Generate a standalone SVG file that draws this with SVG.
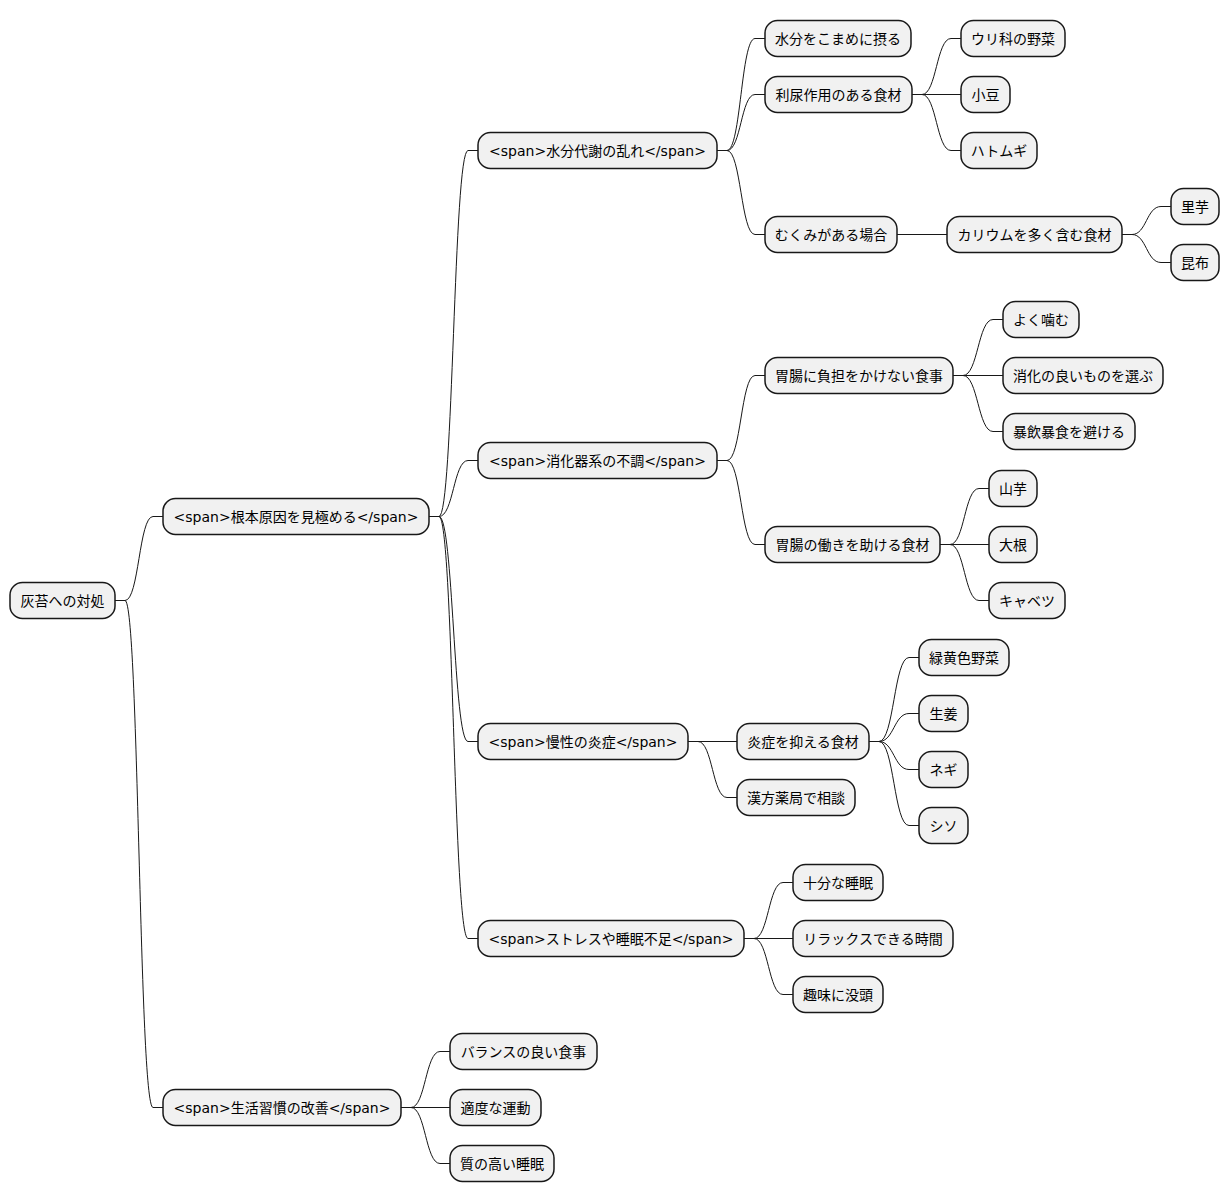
<svg xmlns="http://www.w3.org/2000/svg" width="1230" height="1203" viewBox="0 0 1230 1203">
<style>
.n rect{fill:#F1F1F1;stroke:#181818;stroke-width:1.5}
.n text{font-family:"DejaVu Sans","Noto Sans CJK JP",sans-serif;font-size:14px;fill:#000;text-anchor:middle}
.c path{fill:none;stroke:#181818;stroke-width:1}
</style>
<rect width="1230" height="1203" fill="#FFFFFF"/>
<g class="c" id="connectors">
<path d="M115 600.5 L125 600.5 C139 600.5 139 516.5 153 516.5 L163 516.5"/>
<path d="M115 600.5 L125 600.5 C139 600.5 139 1107.5 153 1107.5 L163 1107.5"/>
<path d="M429 516.5 L439 516.5 C453.5 516.5 453.5 150.5 468 150.5 L478 150.5"/>
<path d="M429 516.5 L439 516.5 C453.5 516.5 453.5 460.5 468 460.5 L478 460.5"/>
<path d="M429 516.5 L439 516.5 C453.5 516.5 453.5 741.5 468 741.5 L478 741.5"/>
<path d="M429 516.5 L439 516.5 C453.5 516.5 453.5 938.5 468 938.5 L478 938.5"/>
<path d="M401 1107.5 L411 1107.5 C425.5 1107.5 425.5 1051.5 440 1051.5 L450 1051.5"/>
<path d="M401 1107.5 L450 1107.5"/>
<path d="M401 1107.5 L411 1107.5 C425.5 1107.5 425.5 1163.5 440 1163.5 L450 1163.5"/>
<path d="M717 150.5 L727 150.5 C741 150.5 741 38.5 755 38.5 L765 38.5"/>
<path d="M717 150.5 L727 150.5 C741 150.5 741 94.5 755 94.5 L765 94.5"/>
<path d="M717 150.5 L727 150.5 C741 150.5 741 234.5 755 234.5 L765 234.5"/>
<path d="M912 94.5 L922 94.5 C936.5 94.5 936.5 38.5 951 38.5 L961 38.5"/>
<path d="M912 94.5 L961 94.5"/>
<path d="M912 94.5 L922 94.5 C936.5 94.5 936.5 150.5 951 150.5 L961 150.5"/>
<path d="M897 234.5 L947 234.5"/>
<path d="M1122 234.5 L1132 234.5 C1146.5 234.5 1146.5 206.5 1161 206.5 L1171 206.5"/>
<path d="M1122 234.5 L1132 234.5 C1146.5 234.5 1146.5 262.5 1161 262.5 L1171 262.5"/>
<path d="M717 460.5 L727 460.5 C741 460.5 741 375.5 755 375.5 L765 375.5"/>
<path d="M717 460.5 L727 460.5 C741 460.5 741 544.5 755 544.5 L765 544.5"/>
<path d="M953 375.5 L963 375.5 C978 375.5 978 319.5 993 319.5 L1003 319.5"/>
<path d="M953 375.5 L1003 375.5"/>
<path d="M953 375.5 L963 375.5 C978 375.5 978 431.5 993 431.5 L1003 431.5"/>
<path d="M940 544.5 L950 544.5 C964.5 544.5 964.5 488.5 979 488.5 L989 488.5"/>
<path d="M940 544.5 L989 544.5"/>
<path d="M940 544.5 L950 544.5 C964.5 544.5 964.5 600.5 979 600.5 L989 600.5"/>
<path d="M688 741.5 L737 741.5"/>
<path d="M688 741.5 L698 741.5 C712.5 741.5 712.5 797.5 727 797.5 L737 797.5"/>
<path d="M869 741.5 L879 741.5 C894 741.5 894 657.5 909 657.5 L919 657.5"/>
<path d="M869 741.5 L879 741.5 C894 741.5 894 713.5 909 713.5 L919 713.5"/>
<path d="M869 741.5 L879 741.5 C894 741.5 894 769.5 909 769.5 L919 769.5"/>
<path d="M869 741.5 L879 741.5 C894 741.5 894 825.5 909 825.5 L919 825.5"/>
<path d="M744 938.5 L754 938.5 C768.5 938.5 768.5 882.5 783 882.5 L793 882.5"/>
<path d="M744 938.5 L793 938.5"/>
<path d="M744 938.5 L754 938.5 C768.5 938.5 768.5 994.5 783 994.5 L793 994.5"/>
</g>
<g class="n" id="root"><rect x="10" y="582.5" width="105" height="36" rx="12.5"/><text x="62.5" y="605.5">灰苔への対処</text></g>
<g class="n" id="n1"><rect x="163" y="498.5" width="266" height="36" rx="12.5"/><text x="296" y="521.5">&lt;span&gt;根本原因を見極める&lt;/span&gt;</text></g>
<g class="n" id="n2"><rect x="163" y="1089.5" width="238" height="36" rx="12.5"/><text x="282" y="1112.5">&lt;span&gt;生活習慣の改善&lt;/span&gt;</text></g>
<g class="n" id="a"><rect x="478" y="132.5" width="239" height="36" rx="12.5"/><text x="597.5" y="155.5">&lt;span&gt;水分代謝の乱れ&lt;/span&gt;</text></g>
<g class="n" id="b"><rect x="478" y="442.5" width="239" height="36" rx="12.5"/><text x="597.5" y="465.5">&lt;span&gt;消化器系の不調&lt;/span&gt;</text></g>
<g class="n" id="c"><rect x="478" y="723.5" width="210" height="36" rx="12.5"/><text x="583" y="746.5">&lt;span&gt;慢性の炎症&lt;/span&gt;</text></g>
<g class="n" id="d"><rect x="478" y="920.5" width="266" height="36" rx="12.5"/><text x="611" y="943.5">&lt;span&gt;ストレスや睡眠不足&lt;/span&gt;</text></g>
<g class="n" id="e1"><rect x="450" y="1033.5" width="147" height="36" rx="12.5"/><text x="523.5" y="1056.5">バランスの良い食事</text></g>
<g class="n" id="e2"><rect x="450" y="1089.5" width="91" height="36" rx="12.5"/><text x="495.5" y="1112.5">適度な運動</text></g>
<g class="n" id="e3"><rect x="450" y="1145.5" width="104" height="36" rx="12.5"/><text x="502" y="1168.5">質の高い睡眠</text></g>
<g class="n" id="a1"><rect x="765" y="20.5" width="146" height="36" rx="12.5"/><text x="838" y="43.5">水分をこまめに摂る</text></g>
<g class="n" id="a2"><rect x="765" y="76.5" width="147" height="36" rx="12.5"/><text x="838.5" y="99.5">利尿作用のある食材</text></g>
<g class="n" id="a3"><rect x="765" y="216.5" width="132" height="36" rx="12.5"/><text x="831" y="239.5">むくみがある場合</text></g>
<g class="n" id="a21"><rect x="961" y="20.5" width="104" height="36" rx="12.5"/><text x="1013" y="43.5">ウリ科の野菜</text></g>
<g class="n" id="a22"><rect x="961" y="76.5" width="49" height="36" rx="12.5"/><text x="985.5" y="99.5">小豆</text></g>
<g class="n" id="a23"><rect x="961" y="132.5" width="76" height="36" rx="12.5"/><text x="999" y="155.5">ハトムギ</text></g>
<g class="n" id="a31"><rect x="947" y="216.5" width="175" height="36" rx="12.5"/><text x="1034.5" y="239.5">カリウムを多く含む食材</text></g>
<g class="n" id="a311"><rect x="1171" y="188.5" width="48" height="36" rx="12.5"/><text x="1195" y="211.5">里芋</text></g>
<g class="n" id="a312"><rect x="1171" y="244.5" width="48" height="36" rx="12.5"/><text x="1195" y="267.5">昆布</text></g>
<g class="n" id="b1"><rect x="765" y="357.5" width="188" height="36" rx="12.5"/><text x="859" y="380.5">胃腸に負担をかけない食事</text></g>
<g class="n" id="b2"><rect x="765" y="526.5" width="175" height="36" rx="12.5"/><text x="852.5" y="549.5">胃腸の働きを助ける食材</text></g>
<g class="n" id="b11"><rect x="1003" y="301.5" width="76" height="36" rx="12.5"/><text x="1041" y="324.5">よく噛む</text></g>
<g class="n" id="b12"><rect x="1003" y="357.5" width="160" height="36" rx="12.5"/><text x="1083" y="380.5">消化の良いものを選ぶ</text></g>
<g class="n" id="b13"><rect x="1003" y="413.5" width="132" height="36" rx="12.5"/><text x="1069" y="436.5">暴飲暴食を避ける</text></g>
<g class="n" id="b21"><rect x="989" y="470.5" width="48" height="36" rx="12.5"/><text x="1013" y="493.5">山芋</text></g>
<g class="n" id="b22"><rect x="989" y="526.5" width="48" height="36" rx="12.5"/><text x="1013" y="549.5">大根</text></g>
<g class="n" id="b23"><rect x="989" y="582.5" width="76" height="36" rx="12.5"/><text x="1027" y="605.5">キャベツ</text></g>
<g class="n" id="c1"><rect x="737" y="723.5" width="132" height="36" rx="12.5"/><text x="803" y="746.5">炎症を抑える食材</text></g>
<g class="n" id="c2"><rect x="737" y="779.5" width="118" height="36" rx="12.5"/><text x="796" y="802.5">漢方薬局で相談</text></g>
<g class="n" id="c11"><rect x="919" y="639.5" width="90" height="36" rx="12.5"/><text x="964" y="662.5">緑黄色野菜</text></g>
<g class="n" id="c12"><rect x="919" y="695.5" width="49" height="36" rx="12.5"/><text x="943.5" y="718.5">生姜</text></g>
<g class="n" id="c13"><rect x="919" y="751.5" width="49" height="36" rx="12.5"/><text x="943.5" y="774.5">ネギ</text></g>
<g class="n" id="c14"><rect x="919" y="807.5" width="49" height="36" rx="12.5"/><text x="943.5" y="830.5">シソ</text></g>
<g class="n" id="d1"><rect x="793" y="864.5" width="90" height="36" rx="12.5"/><text x="838" y="887.5">十分な睡眠</text></g>
<g class="n" id="d2"><rect x="793" y="920.5" width="160" height="36" rx="12.5"/><text x="873" y="943.5">リラックスできる時間</text></g>
<g class="n" id="d3"><rect x="793" y="976.5" width="90" height="36" rx="12.5"/><text x="838" y="999.5">趣味に没頭</text></g>
</svg>
